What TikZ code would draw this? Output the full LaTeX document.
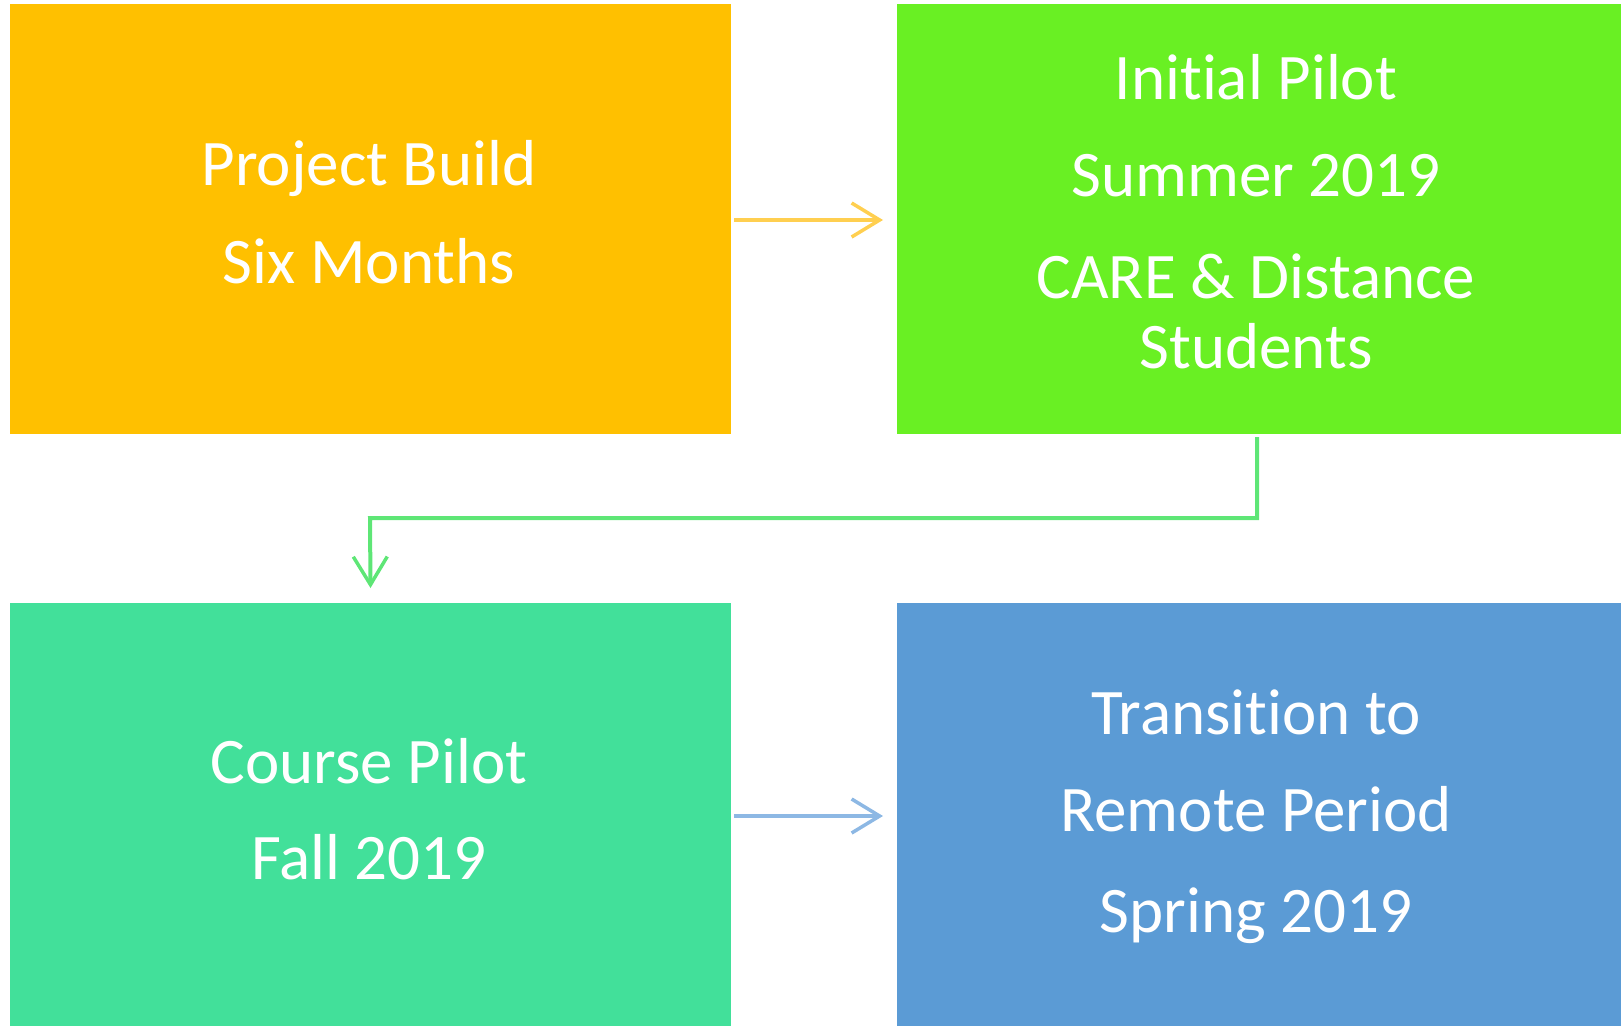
\documentclass[tikz,border=0pt]{standalone}
\usepackage{fontspec}
\setmainfont{Carlito}[Ligatures=NoCommon,RawFeature={-liga;-calt;-dlig}]
\usetikzlibrary{arrows.meta,calc}
\definecolor{cOrange}{HTML}{FFC000}
\definecolor{cGreen}{HTML}{69F023}
\definecolor{cTeal}{HTML}{42E09A}
\definecolor{cBlue}{HTML}{5B9BD5}
\definecolor{aOrange}{HTML}{FFCF50}
\definecolor{aGreen}{HTML}{5EE676}
\definecolor{aBlue}{HTML}{8DB8E4}
\tikzset{
  box/.style={draw=none, inner sep=0pt, outer sep=0pt},
  lbl/.style={anchor=base, text=white, inner sep=0pt, font=\fontsize{65}{70}\selectfont},
  conn/.style={line width=4pt, -{Straight Barb[length=28pt,width=34pt,line width=3.5pt]}},
}
\begin{document}
\begin{tikzpicture}[x=1pt,y=-1pt]
\useasboundingbox (0,0) rectangle (1621,1026);
\node[box, fill=cOrange, minimum width=721pt, minimum height=430pt] (orange) at (370.5,219) {};
\node[box, fill=cGreen, minimum width=724pt, minimum height=430pt] (green) at (1259,219) {};
\node[box, fill=cTeal, minimum width=721pt, minimum height=423pt] (teal) at (370.5,814.5) {};
\node[box, fill=cBlue, minimum width=724pt, minimum height=423pt] (blue) at (1259,814.5) {};

\node[lbl] (t1) at (369,185) {Project Build};
\node[lbl] (t2) at (369,283) {Six Months};

\node[lbl] (g1) at (1256,99) {Initial Pilot};
\node[lbl] (g2) at (1256,196) {Summer 2019};
\node[lbl] (g3) at (1256,298) {CARE \& Distance};
\node[lbl] (g4) at (1256,368) {Students};

\node[lbl] (c1) at (369,783) {Course Pilot};
\node[lbl] (c2) at (369,879) {Fall 2019};

\node[lbl] (b1) at (1256,734) {Transition to};
\node[lbl] (b2) at (1256,831) {Remote Period};
\node[lbl] (b3) at (1256,932) {Spring 2019};

\coordinate (mid) at (370,518);
\draw[conn, aOrange] ([xshift=3pt,yshift=-1pt]orange.east) -- ([xshift=-14pt,yshift=-1pt]green.west);
\draw[conn, aBlue] ([xshift=3pt,yshift=-1.5pt]teal.east) -- ([xshift=-14pt,yshift=-1.5pt]blue.west);
\draw[conn, aGreen] ([xshift=-2pt,yshift=-3pt]green.south) |- (mid) -- ([yshift=15pt]teal.north);
\end{tikzpicture}
\end{document}
